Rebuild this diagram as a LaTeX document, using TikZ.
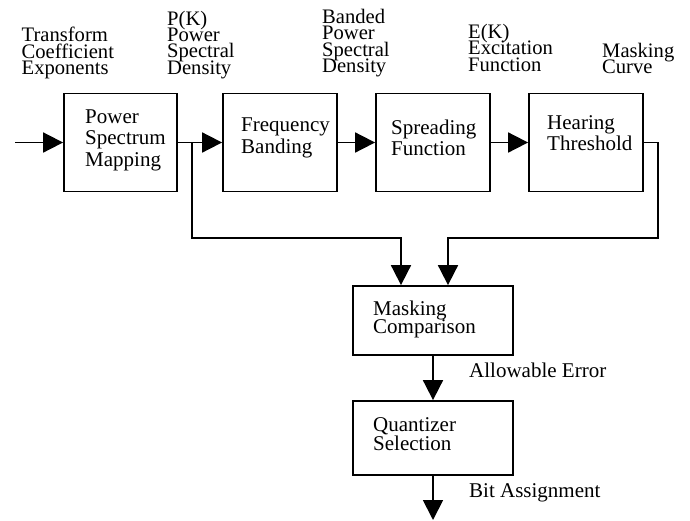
\documentclass[tikz,border=0pt]{standalone}
\usepackage{fontspec}
\setmainfont{Liberation Serif}
\usetikzlibrary{arrows.meta}
\newcommand\lns[2]{\vtop{\baselineskip=#1pt\lineskiplimit=-\maxdimen\lineskip=0pt\halign{##\hfil\cr#2\crcr}}}
\begin{document}
\begin{tikzpicture}[x=1pt,y=-1pt,
  blk/.style={draw, line width=1.8pt, inner sep=0pt},
  txt/.style={anchor=base west, inner sep=0pt, font=\fontsize{21}{22}\selectfont},
  lbl/.style={anchor=base west, inner sep=0pt, font=\fontsize{20.6}{16.5}\selectfont},
  conn/.style={line width=1.8pt},
  arr/.style={line width=1.8pt, -{Triangle[length=20pt,width=20pt]}}]
\useasboundingbox (0,0) rectangle (690,520);
% blocks
\node[blk, minimum width=113pt, minimum height=98pt] (b1) at (120.5,142.5) {};
\node[blk, minimum width=114pt, minimum height=98pt] (b2) at (280,142.5) {};
\node[blk, minimum width=114pt, minimum height=98pt] (b3) at (433,142.5) {};
\node[blk, minimum width=114pt, minimum height=98pt] (b4) at (586,142.5) {};
\node[blk, minimum width=160pt, minimum height=69pt] (m) at (433,320.5) {};
\node[blk, minimum width=160pt, minimum height=74pt] (q) at (433,438) {};
% block texts
\node[txt] (t1) at (85,123) {\lns{21.5}{Power\cr Spectrum\cr Mapping}};
\node[txt] (t2) at (241,131.7) {\lns{21.6}{Frequency\cr Banding}};
\node[txt] (t3) at (391,134) {\lns{21.7}{Spreading\cr Function}};
\node[txt] (t4) at (547,129.3) {\lns{21.5}{Hearing\cr Threshold}};
\node[txt] (tm) at (373,315.5) {\lns{17.5}{Masking\cr Comparison}};
\node[txt] (tq) at (373,431) {\lns{19.5}{Quantizer\cr Selection}};
% top labels
\node[lbl] (l1) at (21.5,41.5) {\lns{16.7}{Transform\cr Coefficient\cr Exponents}};
\node[lbl] (l2) at (167,25) {\lns{16.4}{P(K)\cr Power\cr Spectral\cr Density}};
\node[lbl] (l3) at (322,23) {\lns{16.5}{Banded\cr Power\cr Spectral\cr Density}};
\node[lbl] (l4) at (468,38) {\lns{16.6}{E(K)\cr Excitation\cr Function}};
\node[lbl] (l5) at (602,57) {\lns{16.5}{Masking\cr Curve}};
% bottom labels
\node[txt] (la) at (469,377) {Allowable Error};
\node[txt] (lb) at (469,497) {Bit Assignment};
% connectors
\coordinate (in) at (15,142.5);
\coordinate (j1) at (192,142.5);
\coordinate (k1) at (192,238);
\coordinate (k2) at (658,238);
\coordinate (out) at (433,520);
\draw[arr] (in) -- (b1.west);
\draw[arr] (b1.east) -- (b2.west);
\draw[arr] (b2.east) -- (b3.west);
\draw[arr] (b3.east) -- (b4.west);
\draw[arr] (j1) -- (k1) -| ([xshift=-32pt]m.north);
\draw[arr] (b4.east) -| (k2) -| ([xshift=15pt]m.north);
\draw[arr] (m.south) -- (q.north);
\draw[arr] (q.south) -- (out);
\end{tikzpicture}
\end{document}
